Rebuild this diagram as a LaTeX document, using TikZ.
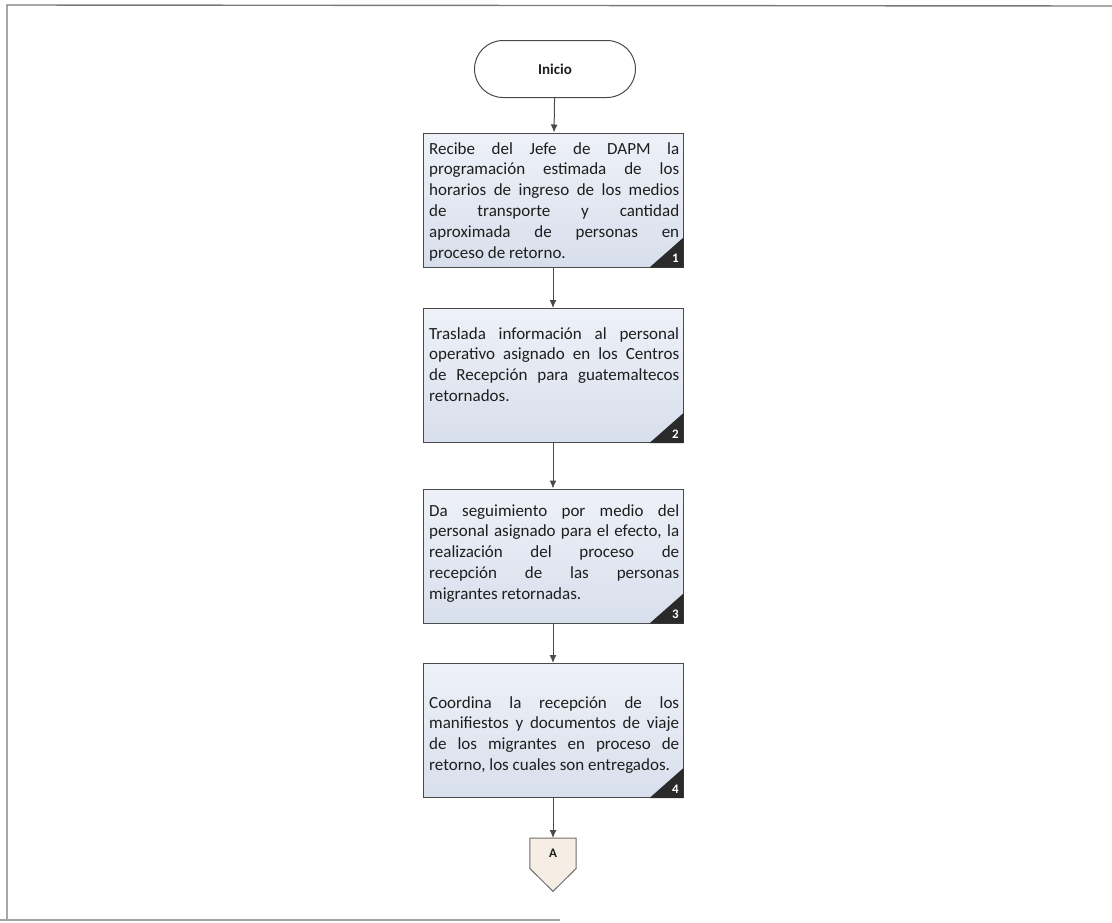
\documentclass[tikz,border=0pt]{standalone}
\usepackage{fontspec}
\setmainfont{Carlito}
\usetikzlibrary{arrows.meta,calc,shapes.misc,backgrounds}
\definecolor{boxtop}{HTML}{EEF1F8}
\definecolor{boxbot}{HTML}{D8DFEC}
\definecolor{edge}{HTML}{4A4A4A}
\definecolor{ink}{HTML}{1E1E1E}
\definecolor{corner}{HTML}{2A2A2A}
\definecolor{connfill}{HTML}{F6EDE5}
\definecolor{frame}{HTML}{7A7A7A}
\tikzset{
  procbox/.style={draw=edge, line width=1pt, top color=boxtop, bottom color=boxbot,
    minimum width=260pt, minimum height=134pt, inner sep=0pt},
  bodytxt/.style={text=ink, text width=250pt, align=justify, inner sep=0pt,
    font=\fontsize{17}{20.8}\selectfont, anchor=base west},
  startbox/.style={draw=edge, line width=1pt, fill=white, rounded rectangle,
    minimum width=161pt, minimum height=57pt, inner sep=0pt,
    font=\fontsize{15}{18}\selectfont\bfseries, text=ink},
  flow/.style={draw=edge, line width=1pt, -{Latex[length=8pt,width=7pt]}},
  numtxt/.style={text=white, font=\fontsize{13}{15}\selectfont\bfseries, inner sep=0pt},
  connlbl/.style={minimum width=46pt, minimum height=30pt, inner sep=0pt,
    font=\fontsize{13}{15}\selectfont\bfseries, text=ink},
  connshape/.style={draw=edge!80, line width=1pt, fill=connfill}
}
\begin{document}
\begin{tikzpicture}[x=1pt,y=-1pt]
\useasboundingbox (0,0) rectangle (1112,922);
% page frame remnants
\draw[frame, line width=1.4pt] (1112,6) -- (7,5) -- (7,920);
\draw[frame!70, line width=1.4pt] (0,920) -- (560,920);

\node[startbox] (inicio) at (555,69) {Inicio};

\node[procbox] (b1) at (553,200) {};
\node[procbox] (b2) at (553,375.5) {};
\node[procbox] (b3) at (553,556) {};
\node[procbox] (b4) at (553,730.5) {};

\node[bodytxt] (t1) at (429,154) {Recibe del Jefe de DAPM la\linebreak programación estimada de los\linebreak horarios de ingreso de los medios\linebreak de transporte y cantidad\linebreak aproximada de personas en\linebreak proceso de retorno.};
\node[bodytxt] (t2) at (429,339) {Traslada información al personal\linebreak operativo asignado en los Centros\linebreak de Recepción para guatemaltecos\linebreak retornados.};
\node[bodytxt] (t3) at (429,516) {Da seguimiento por medio del\linebreak personal asignado para el efecto, la\linebreak realización del proceso de\linebreak recepción de las personas\linebreak migrantes retornadas.};
\node[bodytxt] (t4) at (429,708) {Coordina la recepción de los\linebreak manifiestos y documentos de viaje\linebreak de los migrantes en proceso de\linebreak retorno, los cuales son entregados.};

\foreach \b/\n in {b1/1,b2/2,b3/3,b4/4}{
  \fill[corner] (\b.south east) -- ++(0,-30) -- ++(-34,30) -- cycle;
  \node[numtxt] (\b num) at ($(\b.south east)+(-8,-9)$) {\n};
}

% off-page connector A
\node[connlbl, anchor=north] (A) at (553,838) {A};
\begin{scope}[on background layer]
\draw[connshape] (A.north west) -- (A.north east) -- (A.south east) -- ($(A.south)+(0,23)$) -- (A.south west) -- cycle;
\end{scope}

\draw[flow] (inicio) -- (b1);
\draw[flow] (b1) -- (b2);
\draw[flow] (b2) -- (b3);
\draw[flow] (b3) -- (b4);
\draw[flow] (b4) -- (A);
\end{tikzpicture}
\end{document}
